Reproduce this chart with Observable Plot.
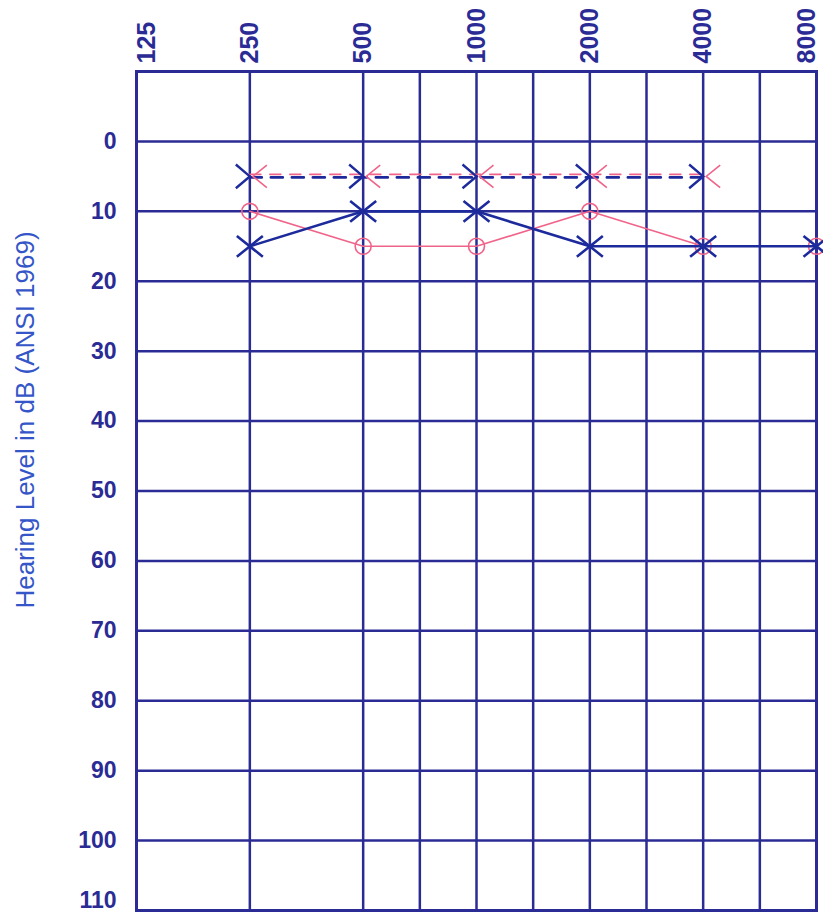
<!DOCTYPE html>
<html>
<head>
<meta charset="utf-8">
<script src="https://cdn.jsdelivr.net/npm/d3@7"></script>
<script src="https://cdn.jsdelivr.net/npm/@observablehq/plot@0.6"></script>
<style>
  html, body { margin: 0; padding: 0; background: #ffffff; }
  #chart svg { display: block; }
</style>
</head>
<body>
<div id="chart"></div>
<script>
// ---- data ----
const gridFreqs = [125, 250, 500, 750, 1000, 1500, 2000, 3000, 4000, 6000, 8000];
const octaveFreqs = [125, 250, 500, 1000, 2000, 4000, 8000];
const freqLabels = ["125", "250", "500", "1000", "2000", "4000", "8000"];
const dbGrid = [0, 10, 20, 30, 40, 50, 60, 70, 80, 90, 100];
const dbLabels = [0, 10, 20, 30, 40, 50, 60, 70, 80, 90, 100, 110];
const yTitle = "Hearing Level in dB (ANSI 1969)";

const airFreqs = [250, 500, 1000, 2000, 4000, 8000];
const leftAir = [15, 10, 10, 15, 15, 15];   // blue X
const rightAir = [10, 15, 15, 10, 15, 15];  // red O
const boneFreqs = [250, 500, 1000, 2000, 4000];
const leftBone = [5, 5, 5, 5, 5];           // blue >
const rightBone = [5, 5, 5, 5, 5];          // red <

// ---- tables ----
const leftAirT = airFreqs.map((f, i) => ({f, db: leftAir[i]}));
const rightAirT = airFreqs.map((f, i) => ({f, db: rightAir[i]}));
const leftBoneT = boneFreqs.map((f, i) => ({f, db: leftBone[i]}));
const rightBoneT = boneFreqs.map((f, i) => ({f, db: rightBone[i]}));
const xLabelT = octaveFreqs.map((f, i) => ({f, label: freqLabels[i]}));

// ---- style ----
const NAVY = "#2b2b95";
const BLUE = "#1c2a9c";
const PINK = "#f0648a";
const TITLE = "#3556c8";
const W = 823, H = 913, L = 136, R = 816, T = 71, B = 910;

const rad = size => Math.sqrt(size / Math.PI);
const symX = {draw(c, s) { const r = rad(s); c.moveTo(-r, -r * 0.8); c.lineTo(r, r * 0.8); c.moveTo(-r, r * 0.8); c.lineTo(r, -r * 0.8); }};
const symGt = {draw(c, s) { const r = rad(s); c.moveTo(-r, -r * 0.85); c.lineTo(0, 0); c.lineTo(-r, r * 0.85); }};
const symLt = {draw(c, s) { const r = rad(s); c.moveTo(r + 3, -r * 0.8); c.lineTo(3, 0); c.lineTo(r + 3, r * 0.8); }};

const xRange = octaveFreqs.map((d, i) => L + i * (R - L) / (octaveFreqs.length - 1));
const labelShift = {125: 10, 8000: -10};
const xLabelOpts = {x: "f", text: "label", frameAnchor: "top", rotate: -90, textAnchor: "start", lineAnchor: "middle", dy: -8, fontSize: 25, fontWeight: "bold", fill: NAVY};

const chart = Plot.plot({
  width: W,
  height: H,
  marginLeft: L,
  marginRight: W - R,
  marginTop: T,
  marginBottom: H - B,
  style: {background: "#ffffff", fontFamily: "Liberation Sans, Arial, sans-serif"},
  x: {type: "linear", domain: octaveFreqs, range: xRange, axis: null},
  y: {domain: [-10, 110], reverse: true, axis: null},
  marks: [
    // grid
    Plot.ruleY(dbGrid, {y: d => d, stroke: NAVY, strokeWidth: 2.5}),
    Plot.ruleX(gridFreqs, {x: d => d, stroke: NAVY, strokeWidth: 2.5}),
    Plot.frame({stroke: NAVY, strokeWidth: 3}),
    // x tick labels (rotated, above)
    Plot.text(xLabelT.filter(d => !(d.f in labelShift)), xLabelOpts),
    Plot.text(xLabelT.filter(d => d.f === 125), {...xLabelOpts, dx: labelShift[125]}),
    Plot.text(xLabelT.filter(d => d.f === 8000), {...xLabelOpts, dx: labelShift[8000]}),
    // y tick labels
    Plot.text(dbLabels.filter(d => d !== 110), {y: d => d, text: d => String(d), frameAnchor: "left", textAnchor: "end", lineAnchor: "middle", dx: -20, fontSize: 23, fontWeight: "bold", fill: NAVY}),
    Plot.text(dbLabels.filter(d => d === 110), {y: d => d, text: d => String(d), frameAnchor: "left", textAnchor: "end", lineAnchor: "middle", dx: -20, dy: -10, fontSize: 23, fontWeight: "bold", fill: NAVY}),
    // y title
    Plot.text([yTitle], {text: d => d, frameAnchor: "left", textAnchor: "middle", lineAnchor: "middle", rotate: -90, dx: -111, dy: -71, fontSize: 26, fill: TITLE}),
    // bone conduction (dashed)
    Plot.line(rightBoneT, {x: "f", y: "db", stroke: PINK, strokeWidth: 1.6, strokeDasharray: "11,9", dy: -2}),
    Plot.line(leftBoneT, {x: "f", y: "db", stroke: BLUE, strokeWidth: 2.6, strokeDasharray: "12,9", dy: 1}),
    Plot.dot(rightBoneT, {x: "f", y: "db", symbol: symLt, r: 14, stroke: PINK, strokeWidth: 1.6, fill: "none"}),
    Plot.dot(leftBoneT, {x: "f", y: "db", symbol: symGt, r: 14, stroke: BLUE, strokeWidth: 2.4, fill: "none"}),
    // air conduction
    Plot.line(rightAirT, {x: "f", y: "db", stroke: PINK, strokeWidth: 1.6}),
    Plot.dot(rightAirT, {x: "f", y: "db", symbol: "circle", r: 8, stroke: PINK, strokeWidth: 1.6, fill: "none"}),
    Plot.line(leftAirT, {x: "f", y: "db", stroke: BLUE, strokeWidth: 2.6}),
    Plot.dot(leftAirT, {x: "f", y: "db", symbol: symX, r: 13, stroke: BLUE, strokeWidth: 2.6, fill: "none"})
  ]
});
document.getElementById("chart").appendChild(chart);
</script>
</body>
</html>
